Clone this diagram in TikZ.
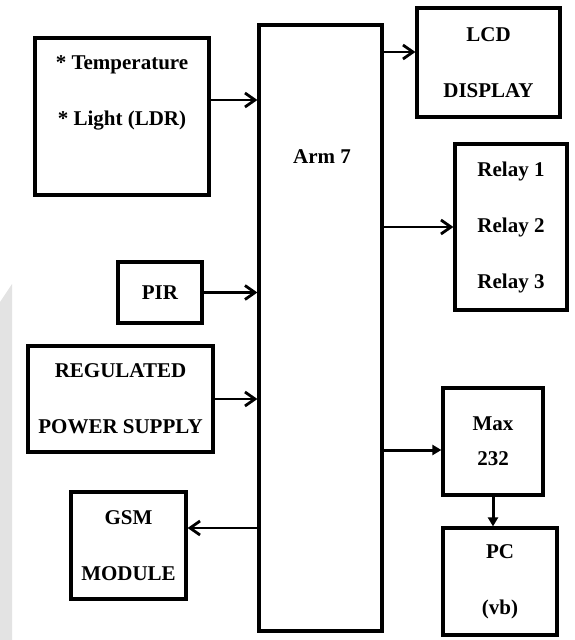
\documentclass[tikz,border=0pt]{standalone}
\usepackage{fontspec}
\setmainfont{Liberation Serif}
\usetikzlibrary{arrows.meta}
\newcommand{\lblfont}{\fontsize{21}{56}\selectfont\bfseries}

\begin{document}
\begin{tikzpicture}[
    x=1pt, y=-1pt,
    box/.style={draw, line width=3.2pt, inner sep=0pt, align=center, font=\lblfont},
    txt/.style={align=center, font=\lblfont, inner sep=0pt},
    arr/.style={-{Straight Barb[length=10pt, width=14pt]}, line width=2.8pt},
    tri/.style={-{Triangle[length=9pt, width=10pt]}, line width=3pt}
]
\useasboundingbox (0,0) rectangle (574,640);
% faint watermark at the left edge
\fill[gray!22] (0,302) -- (12,284) -- (12,640) -- (0,640) -- cycle;

\node[box, minimum width=123, minimum height=606] (arm) at (320.5,328) {};
\node[txt] (armtxt) at (322,157) {Arm 7};
\node[box, minimum width=174, minimum height=157] (sens) at (122,116.5) {};
\node[txt] (senstxt) at (122,93) {* Temperature\\* Light (LDR)};
\node[box, minimum width=84, minimum height=61] (pir) at (160,292.5) {PIR};
\node[box, minimum width=185, minimum height=106] (psu) at (120.5,399) {REGULATED\\POWER SUPPLY};
\node[box, minimum width=115, minimum height=107] (gsm) at (128.5,545.5) {GSM\\MODULE};
\node[box, minimum width=143, minimum height=109] (lcd) at (488.5,62.5) {LCD\\DISPLAY};
\node[box, minimum width=112, minimum height=166] (relay) at (511,227) {Relay 1\\Relay 2\\Relay 3};
\node[box, minimum width=100, minimum height=107] (max) at (493,441.5) {Max\\[-21pt]232};
\node[box, minimum width=114, minimum height=107] (pc) at (500,581.5) {PC\\(vb)};

\coordinate (sensout) at ([yshift=16.5pt]sens.east);
\coordinate (lcdin) at ([yshift=10.5pt]lcd.west);
\coordinate (maxin) at ([yshift=-8.5pt]max.west);
\coordinate (gsmin) at ([yshift=17.5pt]gsm.east);

\draw[arr] (sensout) -- (sensout -| arm.west);
\draw[arr] (pir.east) -- (pir.east -| arm.west);
\draw[arr] (psu.east) -- (psu.east -| arm.west);
\draw[arr] (gsmin -| arm.west) -- (gsmin);
\draw[arr] (lcdin -| arm.east) -- (lcdin);
\draw[arr] (relay.west -| arm.east) -- (relay.west);
\draw[tri] (maxin -| arm.east) -- (maxin);
\draw[tri] (max.south) -- (max.south |- pc.north);
\end{tikzpicture}
\end{document}
